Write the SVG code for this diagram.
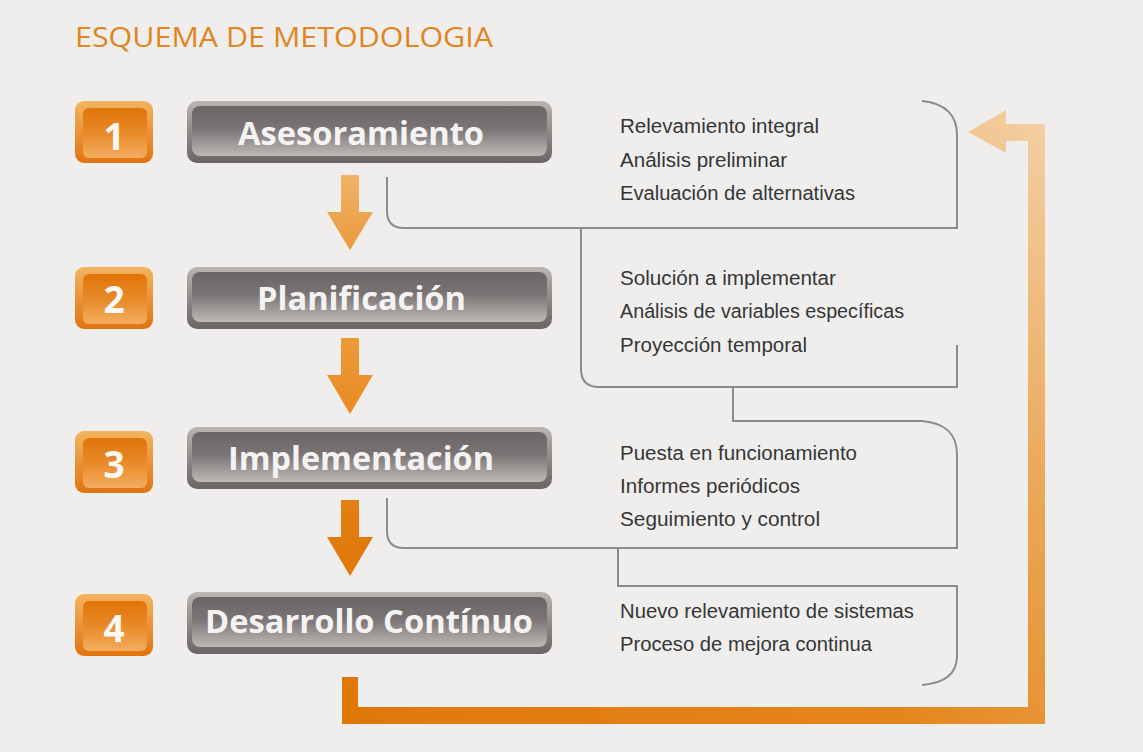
<svg xmlns="http://www.w3.org/2000/svg" width="1143" height="752" viewBox="0 0 1143 752">
  <defs>
    <linearGradient id="barOuter" x1="0" y1="0" x2="0" y2="1">
      <stop offset="0" stop-color="#b9b6b4"/>
      <stop offset="0.5" stop-color="#8e8a88"/>
      <stop offset="1" stop-color="#6a6564"/>
    </linearGradient>
    <linearGradient id="barInner" x1="0" y1="0" x2="0" y2="1">
      <stop offset="0" stop-color="#6a6564"/>
      <stop offset="0.45" stop-color="#7a7574"/>
      <stop offset="1" stop-color="#bdb9b7"/>
    </linearGradient>
    <linearGradient id="numOuter" x1="0" y1="0" x2="0" y2="1">
      <stop offset="0" stop-color="#f3b460"/>
      <stop offset="1" stop-color="#e07410"/>
    </linearGradient>
    <linearGradient id="numInner" x1="0" y1="0" x2="0" y2="1">
      <stop offset="0" stop-color="#e07408"/>
      <stop offset="0.5" stop-color="#e88a28"/>
      <stop offset="1" stop-color="#f3ad60"/>
    </linearGradient>
    <linearGradient id="loopGrad" gradientUnits="userSpaceOnUse" x1="350" y1="720" x2="1040" y2="110">
      <stop offset="0" stop-color="#e07808"/>
      <stop offset="0.45" stop-color="#e5861c"/>
      <stop offset="0.7" stop-color="#eaa452"/>
      <stop offset="1" stop-color="#f3d0a6"/>
    </linearGradient>
    <linearGradient id="arr1" x1="0" y1="0" x2="0" y2="1">
      <stop offset="0" stop-color="#f0b468"/>
      <stop offset="1" stop-color="#e99a3c"/>
    </linearGradient>
    <linearGradient id="arr2" x1="0" y1="0" x2="0" y2="1">
      <stop offset="0" stop-color="#ec9a38"/>
      <stop offset="1" stop-color="#e88a22"/>
    </linearGradient>
    <linearGradient id="arr3" x1="0" y1="0" x2="0" y2="1">
      <stop offset="0" stop-color="#e27f14"/>
      <stop offset="1" stop-color="#e07808"/>
    </linearGradient>
    <style>
      .title { font-family: "Open Sans", "Liberation Sans", sans-serif; font-size: 27px; fill: #e0851f; }
      .bartxt { font-family: "Open Sans", "Liberation Sans", sans-serif; font-weight: bold; font-size: 32px; fill: #f4f3f2; }
      .numtxt { font-family: "Open Sans", "Liberation Sans", sans-serif; font-weight: bold; font-size: 37px; fill: #fbf7f2; text-anchor: middle; }
      .item { font-family: "Liberation Sans", "Open Sans", sans-serif; font-size: 20px; fill: #363636; }
      .bracket { fill: none; stroke: #8c8b8a; stroke-width: 2; }
    </style>
  </defs>

  <rect x="0" y="0" width="1143" height="752" fill="#efeeec"/>

  <text class="title" x="75" y="47" textLength="418" lengthAdjust="spacingAndGlyphs">ESQUEMA DE METODOLOGIA</text>

  <g id="step1">
    <rect x="75" y="101" width="78" height="62" rx="9" fill="url(#numOuter)"/>
    <rect x="83" y="108" width="64" height="50" rx="6" fill="url(#numInner)"/>
    <text class="numtxt" x="114" y="150">1</text>
    <rect x="187" y="101" width="365" height="62" rx="10" fill="url(#barOuter)"/>
    <rect x="192" y="106" width="355" height="50" rx="8" fill="url(#barInner)"/>
    <text class="bartxt" x="238" y="145" textLength="246" lengthAdjust="spacingAndGlyphs">Asesoramiento</text>
  </g>

  <g id="step2">
    <rect x="75" y="267" width="78" height="62" rx="9" fill="url(#numOuter)"/>
    <rect x="83" y="274" width="64" height="50" rx="6" fill="url(#numInner)"/>
    <text class="numtxt" x="114" y="313">2</text>
    <rect x="187" y="267" width="365" height="62" rx="10" fill="url(#barOuter)"/>
    <rect x="192" y="272" width="355" height="50" rx="8" fill="url(#barInner)"/>
    <text class="bartxt" x="257" y="310" textLength="209" lengthAdjust="spacingAndGlyphs">Planificación</text>
  </g>

  <g id="step3">
    <rect x="75" y="431" width="78" height="62" rx="9" fill="url(#numOuter)"/>
    <rect x="83" y="438" width="64" height="50" rx="6" fill="url(#numInner)"/>
    <text class="numtxt" x="114" y="478">3</text>
    <rect x="187" y="427" width="365" height="62" rx="10" fill="url(#barOuter)"/>
    <rect x="192" y="432" width="355" height="50" rx="8" fill="url(#barInner)"/>
    <text class="bartxt" x="228" y="470" textLength="266" lengthAdjust="spacingAndGlyphs">Implementación</text>
  </g>

  <g id="step4">
    <rect x="75" y="594" width="78" height="62" rx="9" fill="url(#numOuter)"/>
    <rect x="83" y="601" width="64" height="50" rx="6" fill="url(#numInner)"/>
    <text class="numtxt" x="114" y="642">4</text>
    <rect x="187" y="592" width="365" height="62" rx="10" fill="url(#barOuter)"/>
    <rect x="192" y="597" width="355" height="50" rx="8" fill="url(#barInner)"/>
    <text class="bartxt" x="205" y="633" textLength="328" lengthAdjust="spacingAndGlyphs">Desarrollo Contínuo</text>
  </g>

  <g id="details1">
    <text class="item" x="620" y="133" textLength="199" lengthAdjust="spacingAndGlyphs">Relevamiento integral</text>
    <text class="item" x="620" y="167" textLength="167" lengthAdjust="spacingAndGlyphs">Análisis preliminar</text>
    <text class="item" x="620" y="200" textLength="235" lengthAdjust="spacingAndGlyphs">Evaluación de alternativas</text>
  </g>
  <g id="details2">
    <text class="item" x="620" y="285" textLength="216" lengthAdjust="spacingAndGlyphs">Solución a implementar</text>
    <text class="item" x="620" y="318" textLength="284" lengthAdjust="spacingAndGlyphs">Análisis de variables específicas</text>
    <text class="item" x="620" y="352" textLength="187" lengthAdjust="spacingAndGlyphs">Proyección temporal</text>
  </g>
  <g id="details3">
    <text class="item" x="620" y="460" textLength="237" lengthAdjust="spacingAndGlyphs">Puesta en funcionamiento</text>
    <text class="item" x="620" y="493" textLength="180" lengthAdjust="spacingAndGlyphs">Informes periódicos</text>
    <text class="item" x="620" y="526" textLength="200" lengthAdjust="spacingAndGlyphs">Seguimiento y control</text>
  </g>
  <g id="details4">
    <text class="item" x="620" y="618" textLength="294" lengthAdjust="spacingAndGlyphs">Nuevo relevamiento de sistemas</text>
    <text class="item" x="620" y="651" textLength="252" lengthAdjust="spacingAndGlyphs">Proceso de mejora continua</text>
  </g>

  <g id="connectors">
    <path d="M341,175 H359 V212 H373 L350,250 L327,212 H341 Z" fill="url(#arr1)"/>
    <path d="M341,338 H359 V375 H373 L350,414 L327,375 H341 Z" fill="url(#arr2)"/>
    <path d="M341,500 H359 V537 H373 L350,576 L327,537 H341 Z" fill="url(#arr3)"/>

    <path class="bracket" d="M387,177 V211 Q387,228 404,228 H957 V135 C957,116 946,103 922,101"/>
    <path class="bracket" d="M581,228 V369 Q581,387 599,387 H957 V345"/>
    <path class="bracket" d="M733,387 V421 H922 C946,423 957,434 957,455 V548 H404 Q387,548 387,531 V498"/>
    <path class="bracket" d="M618,548 V586 H957 V656 C957,673 946,683 922,685"/>

    <path d="M342,677 H358 V707 H1028 V141 H1006 V153 L968,132 L1006,110 V124 H1045 V724 H342 Z" fill="url(#loopGrad)"/>
  </g>
</svg>
